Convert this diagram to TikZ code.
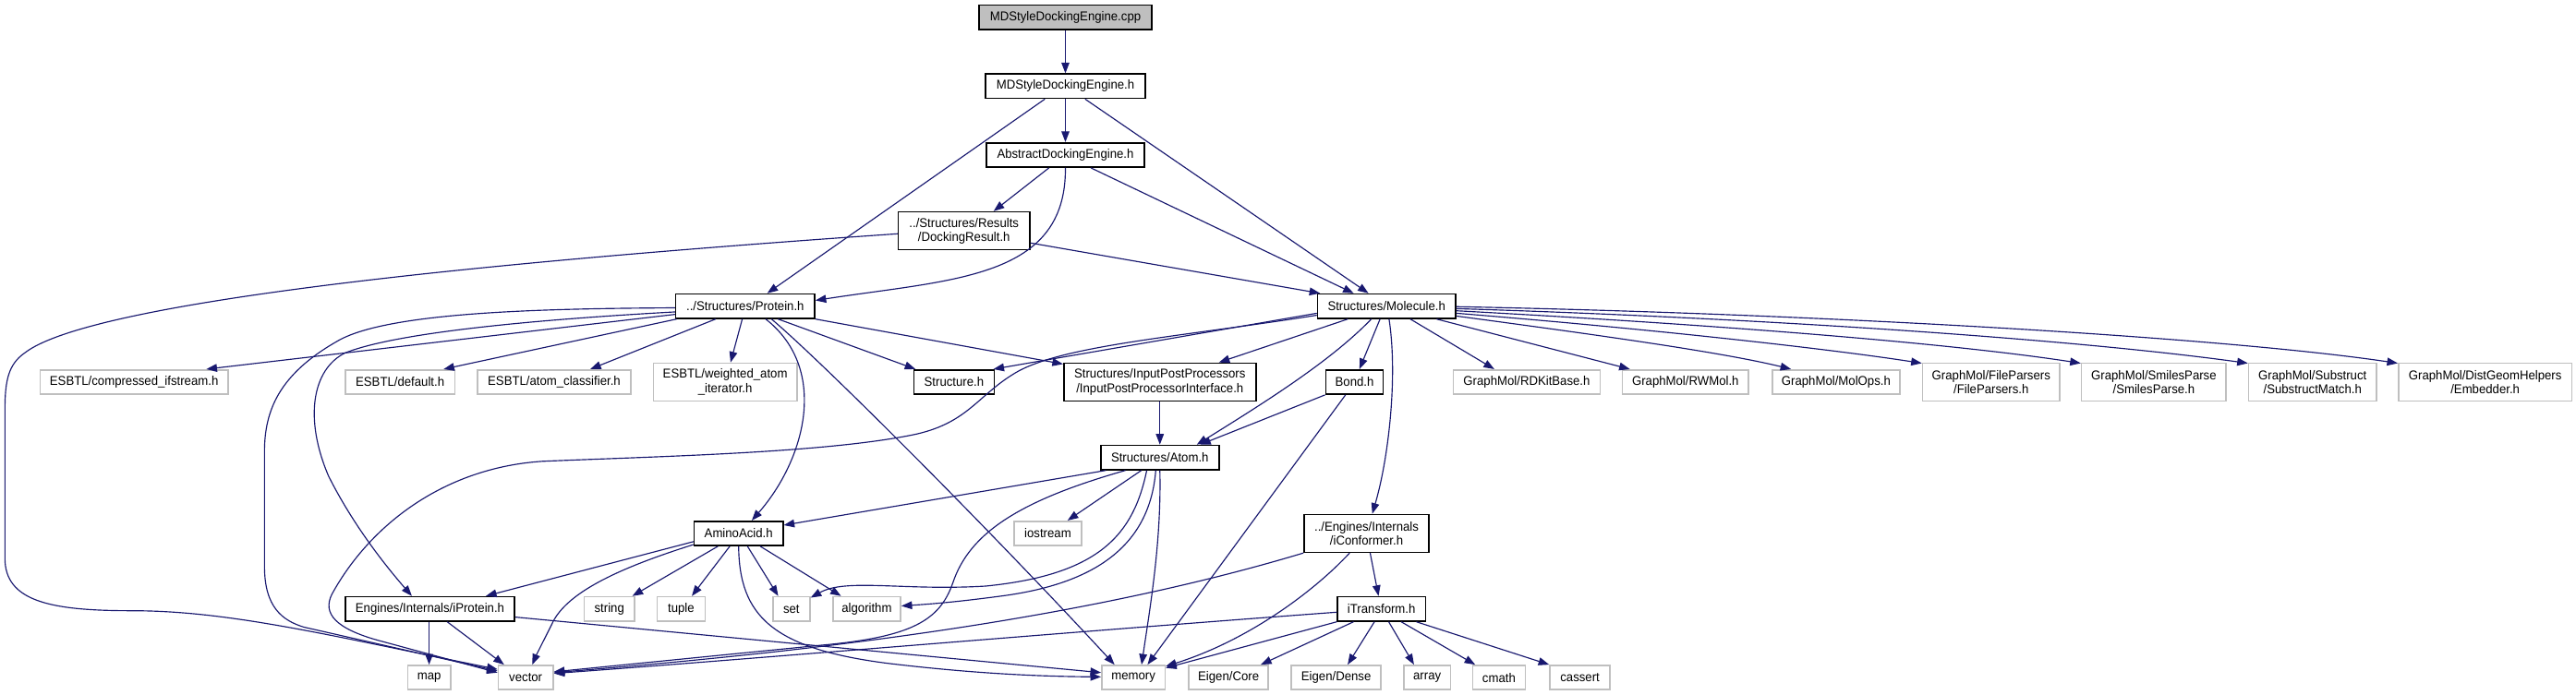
\documentclass[tikz,border=0pt]{standalone}
\usepackage{fontspec}
\setmainfont{Liberation Sans}[FakeStretch=0.95]
\usetikzlibrary{arrows.meta,calc}
\definecolor{edgecol}{RGB}{25,25,112}
\definecolor{grayline}{RGB}{191,191,191}
\definecolor{rootfill}{RGB}{191,191,191}
\newcommand{\dfont}{\fontsize{7.8}{8.6}\selectfont}
\begin{document}
\begin{tikzpicture}[x=1pt,y=-1pt,
  bx/.style={draw=black, line width=0.9pt, fill=white, font=\dfont, inner xsep=3pt, inner ysep=0pt, minimum height=14.8pt, align=center, text=black},
  gx/.style={bx, draw=grayline},
  two/.style={minimum height=23pt},
  edge/.style={draw=edgecol, line width=0.65pt, -{Triangle[length=6.5pt,width=4.8pt]}}]
\useasboundingbox (0,0) rectangle (1568,423);
\fill[white] (0,0) rectangle (1568,423);
% nodes
\node[bx,fill=rootfill,minimum width=105pt] (cpp) at (648.5,10.5) {MDStyleDockingEngine.cpp};
\node[bx,minimum width=97pt] (mdh) at (648.5,52.5) {MDStyleDockingEngine.h};
\node[bx,minimum width=96pt] (abs) at (648.5,94.4) {AbstractDockingEngine.h};
\node[bx,two,minimum width=80pt] (dres) at (586.8,140.6) {../Structures/Results\\/DockingResult.h};
\node[bx,minimum width=84.6pt] (prot) at (453.6,186.5) {../Structures/Protein.h};
\node[bx,minimum width=84pt] (mol) at (844,186.5) {Structures/Molecule.h};
\node[gx,minimum width=114.4pt] (cif) at (81.6,232.7) {ESBTL/compressed\_ifstream.h};
\node[gx,minimum width=66.7pt] (def) at (243.5,232.7) {ESBTL/default.h};
\node[gx,minimum width=93.6pt] (acl) at (337.3,232.7) {ESBTL/atom\_classifier.h};
\node[gx,two,minimum width=87.5pt] (wai) at (441.4,232.7) {ESBTL/weighted\_atom\\\_iterator.h};
\node[bx,minimum width=49pt] (str) at (580.7,232.7) {Structure.h};
\node[bx,two,minimum width=117pt] (ipp) at (706,232.7) {Structures/InputPostProcessors\\/InputPostProcessorInterface.h};
\node[bx,minimum width=35pt] (bond) at (824.5,232.7) {Bond.h};
\node[gx,minimum width=89.3pt] (rdk) at (929.3,232.7) {GraphMol/RDKitBase.h};
\node[gx,minimum width=76.7pt] (rwm) at (1025.9,232.7) {GraphMol/RWMol.h};
\node[gx,minimum width=77.8pt] (mops) at (1117.6,232.7) {GraphMol/MolOps.h};
\node[gx,two,minimum width=83.5pt] (fpar) at (1212,232.7) {GraphMol/FileParsers\\/FileParsers.h};
\node[gx,two,minimum width=88pt] (smi) at (1311,232.7) {GraphMol/SmilesParse\\/SmilesParse.h};
\node[gx,two,minimum width=77.8pt] (sub) at (1407.6,232.7) {GraphMol/Substruct\\/SubstructMatch.h};
\node[gx,two,minimum width=105.5pt] (emb) at (1512.7,232.7) {GraphMol/DistGeomHelpers\\/Embedder.h};
\node[bx,minimum width=72pt] (atom) at (706,278.7) {Structures/Atom.h};
\node[bx,minimum width=54pt] (amino) at (449.6,324.9) {AminoAcid.h};
\node[gx,minimum width=41pt] (iost) at (637.8,324.9) {iostream};
\node[bx,two,minimum width=76pt] (iconf) at (831.8,324.9) {../Engines/Internals\\/iConformer.h};
\node[bx,minimum width=103.2pt] (iprot) at (261.7,370.9) {Engines/Internals/iProtein.h};
\node[gx,minimum width=30.4pt] (string) at (370.9,370.9) {string};
\node[gx,minimum width=29.1pt] (tuple) at (414.6,370.9) {tuple};
\node[gx,minimum width=22.6pt] (set) at (481.7,370.9) {set};
\node[gx,minimum width=41.2pt] (algo) at (527.6,370.9) {algorithm};
\node[bx,minimum width=53.5pt] (itrans) at (840.9,370.9) {iTransform.h};
\node[gx,minimum width=26.2pt] (map) at (261.2,412.7) {map};
\node[gx,minimum width=33.4pt] (vector) at (320,412.7) {vector};
\node[gx,minimum width=38.5pt] (memory) at (689.9,412.7) {memory};
\node[gx,minimum width=48.4pt] (ecore) at (747.8,412.7) {Eigen/Core};
\node[gx,minimum width=54.5pt] (edense) at (813.3,412.7) {Eigen/Dense};
\node[gx,minimum width=28.5pt] (array) at (868.7,412.7) {array};
\node[gx,minimum width=32pt] (cmath) at (912.4,412.7) {cmath};
\node[gx,minimum width=36.6pt] (cassert) at (961.7,412.7) {cassert};
% edges: top
\draw[edge] (cpp.south) -- (mdh.north);
\draw[edge] (mdh.south) -- (abs.north);
\draw[edge] ($(mdh.south)+(-12.5,0)$) -- ($(prot.north)+(13.4,0)$);
\draw[edge] ($(mdh.south)+(12,0)$) -- ($(mol.north)+(-11,0)$);
\draw[edge] ($(abs.south)+(-10,0)$) -- ($(dres.north)+(18,0)$);
\draw[edge] (abs.south) .. controls (649,170) and (580,170) .. ($(prot.east)+(0,-3.5)$);
\draw[edge] ($(abs.south)+(15.5,0)$) -- ($(mol.north)+(-20,0)$);
\draw[edge] ($(dres.east)+(0,7.4)$) -- ($(mol.north west)+(2,0)$);
\draw[edge] ($(dres.west)+(0,1.8)$) .. controls (350,156) and (60,180) .. (15,215) .. controls (5,222) and (3,232) .. (3,250) -- (3,340) .. controls (3,366) and (30,372) .. (80,372) .. controls (140,372) and (200,387) .. ($(vector.west)+(0,-5)$);
% Protein
\draw[edge] ($(prot.west)+(0,5)$) -- ($(cif.north)+(44,0)$);
\draw[edge] ($(prot.south west)+(1,0)$) -- ($(def.north)+(26.5,0)$);
\draw[edge] ($(prot.south)+(-18,0)$) -- ($(acl.north)+(22,0)$);
\draw[edge] ($(prot.south)+(-1.8,0)$) -- ($(wai.north)+(3.3,0)$);
\draw[edge] ($(prot.south)+(20,0)$) -- ($(str.north west)+(1.5,0)$);
\draw[edge] (prot.south east) -- ($(ipp.north west)+(0,1)$);
\draw[edge] ($(prot.south)+(12.5,0)$) .. controls (505,225) and (490,280) .. ($(amino.north)+(8,0)$);
\draw[edge] ($(prot.south)+(16,0)$) .. controls (500,220) and (600,320) .. ($(memory.north)+(-11.5,0)$);
\draw[edge] ($(prot.west)+(0,3.5)$) .. controls (320,195) and (240,203) .. (210,215) .. controls (190,225) and (185,255) .. (200,290) .. controls (215,320) and (235,345) .. ($(iprot.north)+(-11,0)$);
\draw[edge] ($(prot.west)+(0,1)$) .. controls (330,188) and (235,190) .. (205,208) .. controls (170,228) and (161,250) .. (161,275) -- (161,345) .. controls (161,370) and (172,378) .. (185,382) -- ($(vector.west)+(0,-4)$);
% Molecule
\draw[edge] ($(mol.west)+(0,4.3)$) -- ($(str.north east)+(-1,0)$);
\draw[edge] ($(mol.west)+(0,5.5)$) .. controls (720,205) and (650,210) .. (620,226) .. controls (595,240) and (590,258) .. (555,265) .. controls (500,276) and (400,278) .. (330,281) .. controls (270,285) and (225,320) .. (202,362) .. controls (196,374) and (205,383) .. (230,390) -- ($(vector.west)+(0,-3)$);
\draw[edge] ($(mol.south)+(-23.6,0)$) -- ($(ipp.north east)+(-23,0)$);
\draw[edge] ($(mol.south)+(-9.3,0)$) .. controls (810,220) and (770,245) .. ($(atom.north east)+(-14,0)$);
\draw[edge] ($(mol.south)+(-4,0)$) -- ($(bond.north)+(3,0)$);
\draw[edge] ($(mol.south)+(1.5,0)$) .. controls (851,230) and (845,280) .. ($(iconf.north)+(3.5,0)$);
\draw[edge] ($(mol.south east)+(-28,0)$) -- ($(rdk.north west)+(25.4,0)$);
\draw[edge] ($(mol.south east)+(-12,0)$) -- ($(rwm.north west)+(5,0)$);
\draw[edge] ($(mol.east)+(0,6)$) .. controls (980,205) and (1050,215) .. ($(mops.north west)+(12,0)$);
\draw[edge] ($(mol.east)+(0,4.3)$) .. controls (1000,200) and (1110,212) .. ($(fpar.north west)+(0,0.5)$);
\draw[edge] ($(mol.east)+(0,2.8)$) .. controls (1030,197) and (1180,208) .. ($(smi.north west)+(0,0.5)$);
\draw[edge] ($(mol.east)+(0,1.5)$) .. controls (1050,193) and (1250,205) .. ($(sub.north west)+(0,0.5)$);
\draw[edge] ($(mol.east)+(0,0.3)$) .. controls (1100,191) and (1350,205) .. ($(emb.north west)+(0,0.5)$);
% middle
\draw[edge] (ipp.south) -- (atom.north);
\draw[edge] (bond.south west) -- ($(atom.north east)+(-12,0)$);
\draw[edge] ($(bond.south)+(-5.5,0)$) -- ($(memory.north)+(8.6,0)$);
\draw[edge] ($(atom.south west)+(3.5,0)$) -- ($(amino.east)+(0,-5)$);
\draw[edge] ($(atom.south)+(-11.3,0)$) -- ($(iost.north)+(12,0)$);
\draw[edge] ($(atom.south)+(-21,0)$) .. controls (620,305) and (590,325) .. (580,355) .. controls (572,378) and (555,388) .. (500,393) -- ($(vector.east)+(0,-3.5)$);
\draw[edge] ($(atom.south)+(-8,0)$) .. controls (690,325) and (670,350) .. (600,357) .. controls (550,360) and (515,352) .. ($(set.north east)+(0,1)$);
\draw[edge] ($(atom.south)+(-2.5,0)$) .. controls (700,330) and (670,355) .. (610,363) .. controls (580,367) and (565,368) .. ($(algo.east)+(0,-1.8)$);
\draw[edge] (atom.south) .. controls (707,330) and (700,370) .. ($(memory.north)+(5,0)$);
% AminoAcid
\draw[edge] ($(amino.west)+(0,5)$) -- ($(iprot.north east)+(-18,0)$);
\draw[edge] ($(amino.west)+(0,6.8)$) .. controls (380,345) and (345,360) .. (336,380) .. controls (330,392) and (326,400) .. ($(vector.north)+(4,0)$);
\draw[edge] ($(amino.south)+(-12.6,0)$) -- ($(string.north)+(14,0)$);
\draw[edge] ($(amino.south)+(-5.4,0)$) -- ($(tuple.north)+(6.5,0)$);
\draw[edge] ($(amino.south)+(5.4,0)$) -- ($(set.north)+(-8,0)$);
\draw[edge] ($(amino.south east)+(-14.3,0)$) -- ($(algo.north west)+(5.4,0)$);
\draw[edge] (amino.south) .. controls (450,375) and (470,395) .. (540,404) .. controls (590,410) and (630,412) .. ($(memory.west)+(0,-0.4)$);
% iProtein
\draw[edge] ($(iprot.south)+(-0.5,0)$) -- (map.north);
\draw[edge] ($(iprot.south)+(10.5,0)$) -- ($(vector.north west)+(4,0)$);
\draw[edge] ($(iprot.east)+(0,5)$) -- ($(memory.west)+(0,-3)$);
% iConformer
\draw[edge] ($(iconf.south)+(2.2,0)$) -- ($(itrans.north)+(-1.8,0)$);
\draw[edge] ($(iconf.south)+(-10.3,0)$) .. controls (800,360) and (760,390) .. ($(memory.north east)+(0,1)$);
\draw[edge] (iconf.south west) .. controls (650,380) and (480,398) .. ($(vector.east)+(0,-3)$);
% iTransform
\draw[edge] ($(itrans.west)+(0,2)$) .. controls (650,385) and (450,402) .. ($(vector.east)+(0,-2.5)$);
\draw[edge] (itrans.south west) -- ($(memory.north east)+(0,2)$);
\draw[edge] ($(itrans.south)+(-17,0)$) -- ($(ecore.north east)+(-5,0)$);
\draw[edge] ($(itrans.south)+(-4.3,0)$) -- ($(edense.north)+(7,0)$);
\draw[edge] ($(itrans.south)+(4.4,0)$) -- ($(array.north)+(-8,0)$);
\draw[edge] ($(itrans.south)+(12,0)$) -- ($(cmath.north west)+(2,0)$);
\draw[edge] ($(itrans.south east)+(-6,0)$) -- (cassert.north west);
\end{tikzpicture}
\end{document}
